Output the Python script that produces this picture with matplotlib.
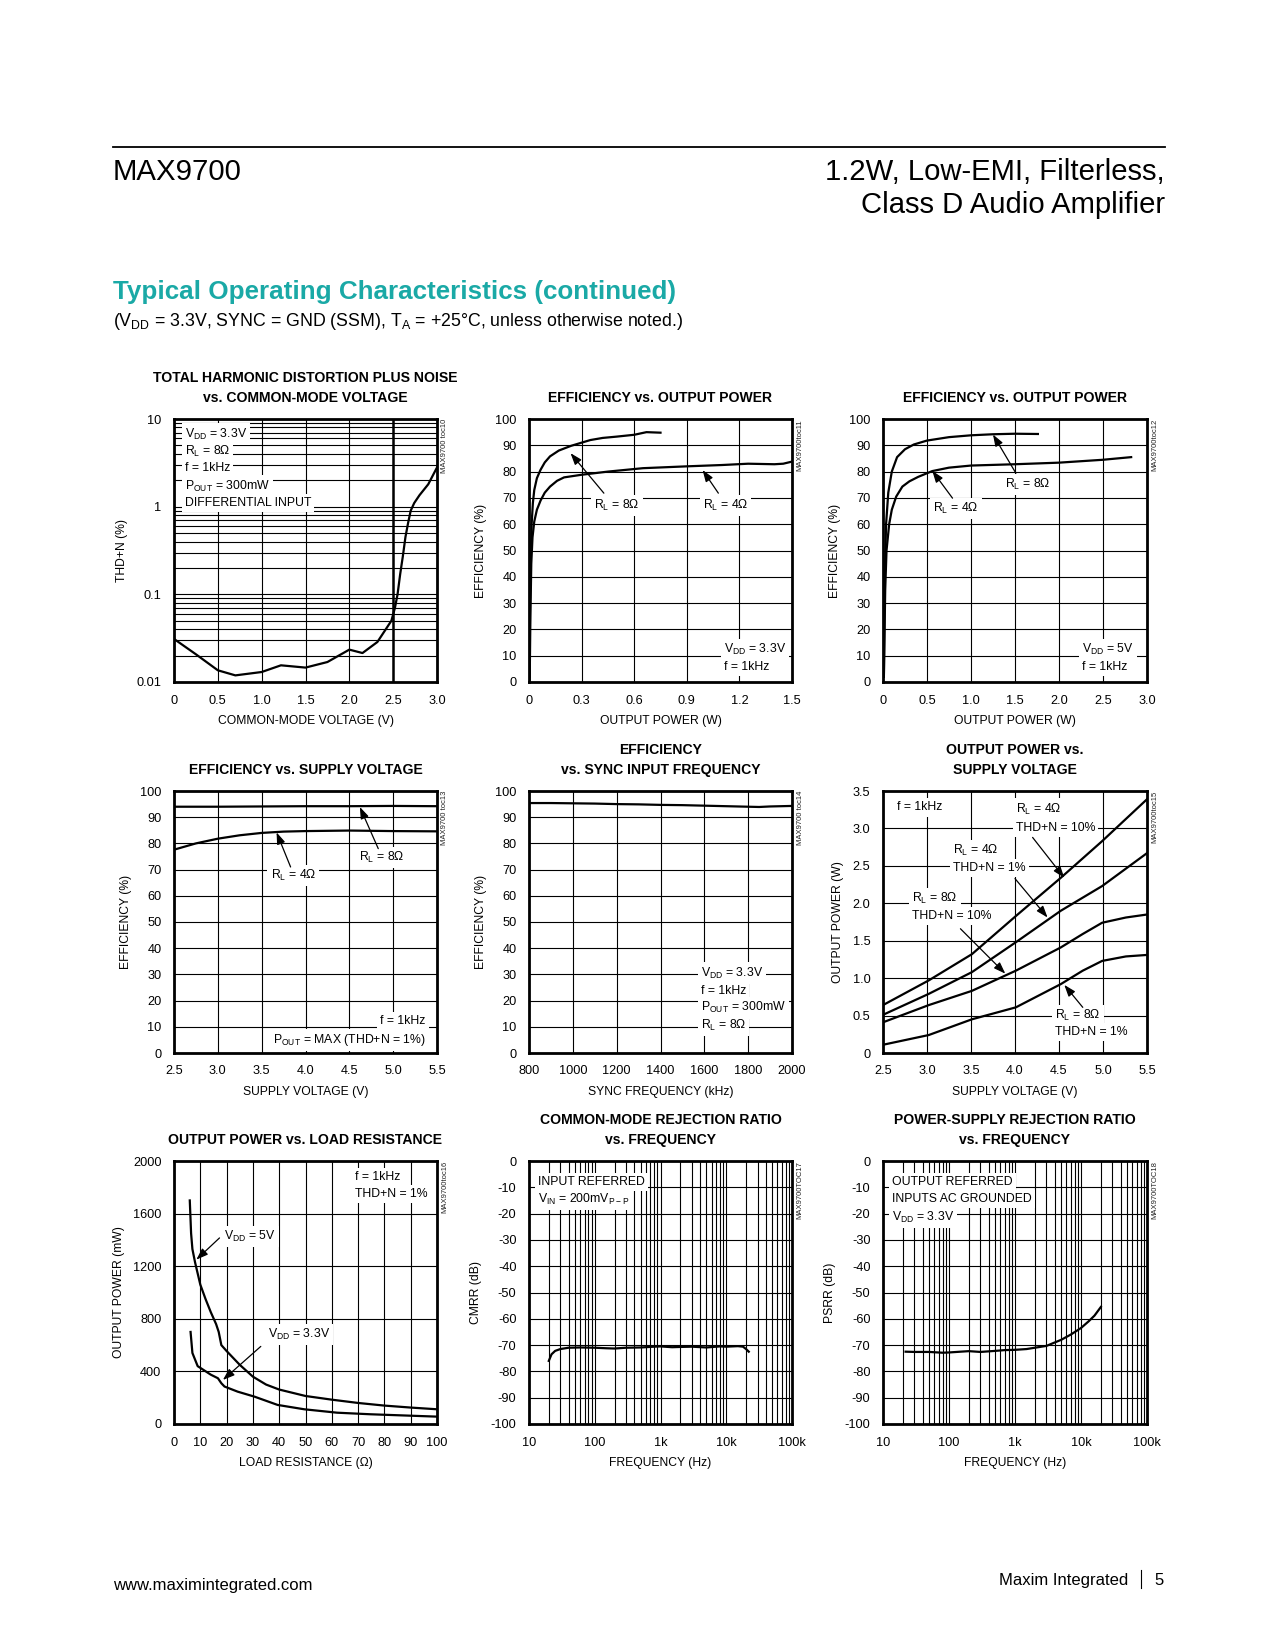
import matplotlib
matplotlib.use("Agg")
import matplotlib.pyplot as plt
from matplotlib.ticker import NullFormatter, LogLocator

# ---------------- data ----------------
# toc10  THD+N vs common-mode voltage
cm_volt = [0, 0.25, 0.5, 0.7, 1.0, 1.22, 1.5, 1.75, 2.0, 2.15, 2.32, 2.48, 2.52,
           2.55, 2.58, 2.61, 2.64, 2.67, 2.70, 2.74, 2.8, 2.9, 3.0]
cm_thd = [0.031, 0.0207, 0.0136, 0.0119, 0.013, 0.0155, 0.0146, 0.0169, 0.0234,
          0.0214, 0.0286, 0.05, 0.07, 0.1, 0.17, 0.27, 0.45, 0.65, 0.9, 1.1,
          1.35, 1.8, 2.8]

# toc11  efficiency vs output power, VDD = 3.3V
p33_8_x = [0.003, 0.006, 0.01, 0.015, 0.022, 0.03, 0.045, 0.066, 0.09, 0.12, 0.17,
           0.24, 0.3, 0.35, 0.42, 0.5, 0.6, 0.67, 0.75]
p33_8_y = [2, 30, 48, 60, 68, 73, 77.5, 80.7, 83.5, 85.8, 88, 89.8, 91, 92, 92.8,
           93.3, 94, 95, 94.8]
p33_4_x = [0.004, 0.008, 0.013, 0.02, 0.03, 0.045, 0.066, 0.09, 0.12, 0.16, 0.2,
           0.25, 0.3, 0.45, 0.65, 0.9, 1.1, 1.25, 1.4, 1.45, 1.5]
p33_4_y = [1, 25, 45, 55, 61, 65.5, 69, 72, 74.3, 76.5, 77.8, 78.3, 78.8, 80, 81.3,
           82, 82.5, 83, 82.8, 83.0, 83.8]

# toc12  efficiency vs output power, VDD = 5V
p5_8_x = [0.01, 0.02, 0.035, 0.06, 0.1, 0.16, 0.25, 0.35, 0.5, 0.75, 1.0, 1.25,
          1.5, 1.76]
p5_8_y = [2, 40, 60, 72, 80, 85.5, 88.5, 90.3, 91.8, 93.1, 93.8, 94.2, 94.4, 94.3]
p5_4_x = [0.01, 0.025, 0.04, 0.07, 0.1, 0.15, 0.22, 0.3, 0.4, 0.56, 0.75, 1.0,
          1.5, 2.0, 2.5, 2.82]
p5_4_y = [2, 35, 50, 60, 65.5, 70.5, 74.3, 76.3, 78, 80.2, 81.5, 82.3, 82.8,
          83.4, 84.5, 85.5]

# toc13  efficiency vs supply voltage
vs8 = [2.5, 3.0, 3.5, 4.0, 4.5, 5.0, 5.5]
eff_vs8 = [94.0, 94.0, 94.1, 94.2, 94.2, 94.3, 94.2]
vs4 = [2.5, 2.75, 3.0, 3.25, 3.5, 3.75, 4.0, 4.5, 5.0, 5.5]
eff_vs4 = [77.6, 80, 81.8, 83.1, 84, 84.5, 84.7, 84.9, 84.7, 84.6]

# toc14  efficiency vs sync frequency
sync_khz = [800, 900, 1000, 1100, 1200, 1300, 1400, 1500, 1600, 1700, 1800,
            1850, 1900, 2000]
eff_sync = [95.4, 95.4, 95.3, 95.2, 95.0, 94.9, 94.7, 94.6, 94.4, 94.2, 94.0,
            93.9, 94.1, 94.3]

# toc15  output power vs supply voltage
vdd_a = [2.5, 3.02, 3.51, 4.01, 4.52, 4.99, 5.5]
pout_4_10 = [0.64, 0.97, 1.32, 1.83, 2.34, 2.83, 3.39]
pout_4_1 = [0.51, 0.79, 1.08, 1.48, 1.90, 2.23, 2.67]
vdd_b = [2.5, 3.02, 3.51, 4.01, 4.52, 4.77, 4.99, 5.26, 5.5]
pout_8_10 = [0.41, 0.64, 0.83, 1.10, 1.41, 1.59, 1.74, 1.81, 1.85]
pout_8_1 = [0.11, 0.24, 0.45, 0.61, 0.92, 1.10, 1.23, 1.29, 1.31]

# toc16  output power vs load resistance
rl_5 = [6, 6.5, 7, 8, 10, 12, 14, 16, 17, 18, 20, 25, 30, 35, 40, 50, 60, 70, 80,
        90, 100]
pw_5 = [1700, 1450, 1330, 1230, 1060, 950, 850, 760, 700, 600, 555, 450, 360, 300,
        262, 213, 185, 160, 140, 125, 112]
rl_33 = [6.3, 7, 9, 14, 16.7, 18, 19.2, 24.2, 30.6, 39.4, 49.5, 62, 74.7, 100]
pw_33 = [700, 540, 440, 375, 348, 310, 285, 246, 208, 145, 112, 86, 74, 56]

# toc17  CMRR vs frequency
cmrr_f = [20, 22, 25, 30, 40, 60, 100, 150, 200, 300, 500, 800, 1000, 1500, 2000,
          3000, 5000, 8000, 10000, 15000, 18000, 20000, 22000]
cmrr_db = [-76, -73.5, -72.2, -71.5, -71.0, -70.9, -71.0, -71.2, -71.3, -71.0,
           -70.9, -70.6, -70.5, -70.8, -70.7, -70.6, -70.9, -70.5, -70.6, -70.4,
           -70.6, -71.5, -72.5]

# toc18  PSRR vs frequency
psrr_f = [22, 30, 50, 80, 100, 150, 200, 300, 500, 700, 1000, 1500, 2000, 3000,
          4000, 5000, 7000, 10000, 13000, 16000, 20000]
psrr_db = [-72.5, -72.6, -72.6, -72.9, -72.8, -72.5, -72.3, -72.6, -72.2, -71.9,
           -71.8, -71.5, -71.0, -70.3, -69.0, -68.0, -66.0, -63.5, -61, -58.8, -55.5]

freq_ticks = [10, 100, 1000, 10000, 100000]
freq_labels = ["10", "100", "1k", "10k", "100k"]
db_ticks = list(range(-100, 1, 10))
db_labels = [str(v) for v in db_ticks]
pct_ticks = list(range(0, 101, 10))
pct_labels = [str(v) for v in pct_ticks]

# ---------------- page setup ----------------
W, H = 1275, 1650
TEAL = "#1aa9a6"
CF = "Liberation Sans"

plt.rcParams["font.family"] = ["Liberation Sans", "DejaVu Sans"]
plt.rcParams["mathtext.default"] = "regular"

TS = 9.2     # tick labels
LS = 8.7     # axis labels
AS = 8.8     # annotations
TT = 10.1    # chart titles

fig = plt.figure(figsize=(W / 100, H / 100), dpi=100)

COLS = [(174, 437), (529, 792), (883, 1147)]
ROWS = [(419, 682), (791, 1053), (1161, 1424)]

WHITE = dict(boxstyle="square,pad=0.25", fc="white", ec="none")
ARROW = dict(arrowstyle="-|>,head_length=0.7,head_width=0.25", color="k", lw=0.9,
             shrinkA=0, shrinkB=0)


def panel(col, row):
    l, r = COLS[col]
    t, b = ROWS[row]
    ax = fig.add_axes([l / W, 1 - b / H, (r - l) / W, (b - t) / H])
    for s in ax.spines.values():
        s.set_linewidth(2.0)
    ax.tick_params(which="both", length=0, pad=9)
    return ax


def finish(ax, col, row, xt, xl, yt, yl, xlabel, ylabel, title, toc):
    ax.set_xticks(xt)
    ax.set_xticklabels(xl, fontsize=TS, family=CF)
    ax.set_yticks(yt)
    ax.set_yticklabels(yl, fontsize=TS, family=CF)
    ax.xaxis.set_minor_formatter(NullFormatter())
    ax.yaxis.set_minor_formatter(NullFormatter())
    ax.set_xlabel(xlabel, fontsize=LS, family=CF, labelpad=6)
    ax.set_ylabel(ylabel, fontsize=LS, family=CF, labelpad=6)
    ax.grid(True, which="major", color="k", lw=0.8)
    ax.set_axisbelow(True)
    l, r = COLS[col]
    t, b = ROWS[row]
    lines = title.split("\n")
    for i, line in enumerate(lines):
        y = t - 21 - 20 * (len(lines) - 1 - i)
        fig.text((l + r) / 2 / W, 1 - y / H, line, ha="center", va="center",
                 fontsize=TT, family=CF, weight="bold")
    fig.text((r + 8) / W, 1 - t / H, toc, rotation=90, ha="center", va="top",
             fontsize=5.5, family=CF, color="#222222")


def note(ax, x, y, s, ha="left", transform=None):
    kw = {}
    if transform is not None:
        kw["transform"] = transform
    ax.text(x, y, s, ha=ha, va="center", fontsize=AS, family=CF, bbox=WHITE,
            zorder=4, **kw)


def arrow(ax, tail, tip):
    ax.annotate("", xy=tip, xytext=tail, arrowprops=ARROW, zorder=5)


# ---------------- header / footer ----------------
fig.add_artist(plt.Line2D([113 / W, 1165 / W], [1 - 146.5 / H] * 2, color="k", lw=1.3))
fig.text(113 / W, 1 - 180 / H, "MAX9700", fontsize=21.2, va="baseline")
fig.text(1165 / W, 1 - 180 / H, "1.2W, Low-EMI, Filterless,", fontsize=21.1,
         ha="right", va="baseline")
fig.text(1165 / W, 1 - 213 / H, "Class D Audio Amplifier", fontsize=21.1,
         ha="right", va="baseline")
fig.text(113 / W, 1 - 299 / H, "Typical Operating Characteristics (continued)",
         fontsize=18.7, weight="bold", color=TEAL, va="baseline")
fig.text(113 / W, 1 - 326 / H,
         "(V$_{DD}$ = 3.3V, SYNC = GND (SSM), T$_{A}$ = +25°C, unless otherwise noted.)",
         fontsize=12.8, va="baseline")
fig.text(113 / W, 1 - 1590 / H, "www.maximintegrated.com", fontsize=12, va="baseline")
fig.text(1128 / W, 1 - 1585 / H, "Maxim Integrated", fontsize=12, ha="right",
         va="baseline")
fig.add_artist(plt.Line2D([1141 / W] * 2, [1 - 1570 / H, 1 - 1588 / H], color="k",
                          lw=0.8))
fig.text(1159 / W, 1 - 1585 / H, "5", fontsize=12, ha="center", va="baseline")

# ---------------- toc10 ----------------
ax = panel(0, 0)
ax.set_yscale("log")
ax.set_xlim(0, 3)
ax.set_ylim(0.01, 10)
ax.yaxis.set_minor_locator(LogLocator(base=10, subs=range(2, 10)))
ax.plot(cm_volt, cm_thd, color="k", lw=1.6, zorder=3)
finish(ax, 0, 0, [0, 0.5, 1, 1.5, 2, 2.5, 3],
       ["0", "0.5", "1.0", "1.5", "2.0", "2.5", "3.0"],
       [0.01, 0.1, 1, 10], ["0.01", "0.1", "1", "10"],
       "COMMON-MODE VOLTAGE (V)", "THD+N (%)",
       "TOTAL HARMONIC DISTORTION PLUS NOISE\nvs. COMMON-MODE VOLTAGE", "MAX9700 toc10")
ax.grid(True, which="minor", axis="y", color="k", lw=0.8)
ax.axvline(2.5, color="k", lw=1.8, zorder=1)
for y, s in zip([434, 451, 468, 486, 503],
                ["V$_{DD}$ = 3.3V", "R$_{L}$ = 8Ω", "f = 1kHz", "P$_{OUT}$ = 300mW",
                 "DIFFERENTIAL INPUT"]):
    note(ax, 11 / 263, (682 - y) / 263, s, transform=ax.transAxes)

# ---------------- toc11 ----------------
ax = panel(1, 0)
ax.set_xlim(0, 1.5)
ax.set_ylim(0, 100)
ax.plot(p33_8_x, p33_8_y, color="k", lw=1.6, zorder=3)
ax.plot(p33_4_x, p33_4_y, color="k", lw=1.6, zorder=3)
finish(ax, 1, 0, [0, 0.3, 0.6, 0.9, 1.2, 1.5], ["0", "0.3", "0.6", "0.9", "1.2", "1.5"],
       pct_ticks, pct_labels, "OUTPUT POWER (W)", "EFFICIENCY (%)",
       "EFFICIENCY vs. OUTPUT POWER", "MAX9700toc11")
note(ax, 0.503, 67, "R$_{L}$ = 8Ω", ha="center")
arrow(ax, (0.427, 71.8), (0.237, 87))
note(ax, 1.12, 67, "R$_{L}$ = 4Ω", ha="center")
arrow(ax, (1.08, 71.8), (0.99, 80.6))
note(ax, 1.112, 12.2, "V$_{DD}$ = 3.3V")
note(ax, 1.112, 5.7, "f = 1kHz")

# ---------------- toc12 ----------------
ax = panel(2, 0)
ax.set_xlim(0, 3)
ax.set_ylim(0, 100)
ax.plot(p5_8_x, p5_8_y, color="k", lw=1.6, zorder=3)
ax.plot(p5_4_x, p5_4_y, color="k", lw=1.6, zorder=3)
finish(ax, 2, 0, [0, 0.5, 1, 1.5, 2, 2.5, 3],
       ["0", "0.5", "1.0", "1.5", "2.0", "2.5", "3.0"],
       pct_ticks, pct_labels, "OUTPUT POWER (W)", "EFFICIENCY (%)",
       "EFFICIENCY vs. OUTPUT POWER", "MAX9700toc12")
note(ax, 1.65, 75, "R$_{L}$ = 8Ω", ha="center")
arrow(ax, (1.51, 79.4), (1.25, 94.1))
note(ax, 0.83, 66, "R$_{L}$ = 4Ω", ha="center")
arrow(ax, (0.79, 69.9), (0.56, 80.3))
note(ax, 2.26, 12.2, "V$_{DD}$ = 5V")
note(ax, 2.26, 5.7, "f = 1kHz")

# ---------------- toc13 ----------------
ax = panel(0, 1)
ax.set_xlim(2.5, 5.5)
ax.set_ylim(0, 100)
ax.plot(vs8, eff_vs8, color="k", lw=1.6, zorder=3)
ax.plot(vs4, eff_vs4, color="k", lw=1.6, zorder=3)
volt_ticks = [2.5, 3.0, 3.5, 4.0, 4.5, 5.0, 5.5]
volt_labels = ["2.5", "3.0", "3.5", "4.0", "4.5", "5.0", "5.5"]
finish(ax, 0, 1, volt_ticks, volt_labels, pct_ticks, pct_labels,
       "SUPPLY VOLTAGE (V)", "EFFICIENCY (%)", "EFFICIENCY vs. SUPPLY VOLTAGE",
       "MAX9700 toc13")
note(ax, 4.87, 74.6, "R$_{L}$ = 8Ω", ha="center")
arrow(ax, (4.83, 78), (4.62, 93.9))
note(ax, 3.86, 67.8, "R$_{L}$ = 4Ω", ha="center")
arrow(ax, (3.83, 71), (3.67, 84.2))
note(ax, 5.37, 12.2, "f = 1kHz", ha="right")
note(ax, 5.37, 5.0, "P$_{OUT}$ = MAX (THD+N = 1%)", ha="right")

# ---------------- toc14 ----------------
ax = panel(1, 1)
ax.set_xlim(800, 2000)
ax.set_ylim(0, 100)
ax.plot(sync_khz, eff_sync, color="k", lw=1.6, zorder=3)
sync_ticks = list(range(800, 2001, 200))
finish(ax, 1, 1, sync_ticks, [str(v) for v in sync_ticks], pct_ticks, pct_labels,
       "SYNC FREQUENCY (kHz)", "EFFICIENCY (%)",
       "EFFICIENCY\nvs. SYNC INPUT FREQUENCY", "MAX9700 toc14")
for y, s in zip([30.5, 23.7, 17.2, 10.5],
                ["V$_{DD}$ = 3.3V", "f = 1kHz", "P$_{OUT}$ = 300mW", "R$_{L}$ = 8Ω"]):
    note(ax, 1584, y, s)

# ---------------- toc15 ----------------
ax = panel(2, 1)
ax.set_xlim(2.5, 5.5)
ax.set_ylim(0, 3.5)
for yv in (pout_4_10, pout_4_1):
    ax.plot(vdd_a, yv, color="k", lw=1.6, zorder=3)
for yv in (pout_8_10, pout_8_1):
    ax.plot(vdd_b, yv, color="k", lw=1.6, zorder=3)
pw_ticks = [0, 0.5, 1.0, 1.5, 2.0, 2.5, 3.0, 3.5]
finish(ax, 2, 1, volt_ticks, volt_labels, pw_ticks,
       ["0", "0.5", "1.0", "1.5", "2.0", "2.5", "3.0", "3.5"],
       "SUPPLY VOLTAGE (V)", "OUTPUT POWER (W)", "OUTPUT POWER vs.\nSUPPLY VOLTAGE",
       "MAX9700toc15")
note(ax, 2.66, 3.28, "f = 1kHz")
note(ax, 4.01, 3.26, "R$_{L}$ = 4Ω")
note(ax, 4.01, 3.01, "THD+N = 10%")
arrow(ax, (4.2, 2.88), (4.56, 2.34))
note(ax, 3.3, 2.70, "R$_{L}$ = 4Ω")
note(ax, 3.3, 2.47, "THD+N = 1%")
arrow(ax, (4.0, 2.33), (4.37, 1.81))
note(ax, 2.83, 2.06, "R$_{L}$ = 8Ω")
note(ax, 2.83, 1.83, "THD+N = 10%")
arrow(ax, (3.38, 1.66), (3.89, 1.06))
note(ax, 4.46, 0.50, "R$_{L}$ = 8Ω")
note(ax, 4.46, 0.28, "THD+N = 1%")
arrow(ax, (4.77, 0.61), (4.56, 0.91))

# ---------------- toc16 ----------------
ax = panel(0, 2)
ax.set_xlim(0, 100)
ax.set_ylim(0, 2000)
ax.plot(rl_5, pw_5, color="k", lw=1.6, zorder=3)
ax.plot(rl_33, pw_33, color="k", lw=1.6, zorder=3)
rl_ticks = list(range(0, 101, 10))
mw_ticks = list(range(0, 2001, 400))
finish(ax, 0, 2, rl_ticks, [str(v) for v in rl_ticks], mw_ticks,
       [str(v) for v in mw_ticks], "LOAD RESISTANCE (Ω)", "OUTPUT POWER (mW)",
       "OUTPUT POWER vs. LOAD RESISTANCE", "MAX9700toc16")
note(ax, 68.7, 1880, "f = 1kHz")
note(ax, 68.7, 1746, "THD+N = 1%")
note(ax, 19.2, 1428, "V$_{DD}$ = 5V")
arrow(ax, (17.3, 1415), (8.5, 1250))
note(ax, 35.6, 678, "V$_{DD}$ = 3.3V")
arrow(ax, (33, 590), (18.6, 335))

# ---------------- toc17 / toc18 ----------------
for col, fx_, fy_, lab, toc, title, lines in [
        (1, cmrr_f, cmrr_db, "CMRR (dB)", "MAX9700TOC17",
         "COMMON-MODE REJECTION RATIO\nvs. FREQUENCY",
         [(-7.9, "INPUT REFERRED"), (-14.6, "V$_{IN}$ = 200mV$_{P-P}$")]),
        (2, psrr_f, psrr_db, "PSRR (dB)", "MAX9700TOC18",
         "POWER-SUPPLY REJECTION RATIO\nvs. FREQUENCY",
         [(-7.9, "OUTPUT REFERRED"), (-14.4, "INPUTS AC GROUNDED"),
          (-21.4, "V$_{DD}$ = 3.3V")])]:
    ax = panel(col, 2)
    ax.set_xscale("log")
    ax.set_xlim(10, 100000)
    ax.set_ylim(-100, 0)
    ax.xaxis.set_minor_locator(LogLocator(base=10, subs=range(2, 10)))
    ax.plot(fx_, fy_, color="k", lw=1.6, zorder=3)
    finish(ax, col, 2, freq_ticks, freq_labels, db_ticks, db_labels,
           "FREQUENCY (Hz)", lab, title, toc)
    ax.grid(True, which="minor", axis="x", color="k", lw=0.8)
    for y, s in lines:
        ax.text(0.034, (y + 100) / 100, s, transform=ax.transAxes, ha="left",
                va="center", fontsize=AS, family=CF, bbox=WHITE, zorder=4)

fig.savefig("out.png", dpi=100, facecolor="white")
